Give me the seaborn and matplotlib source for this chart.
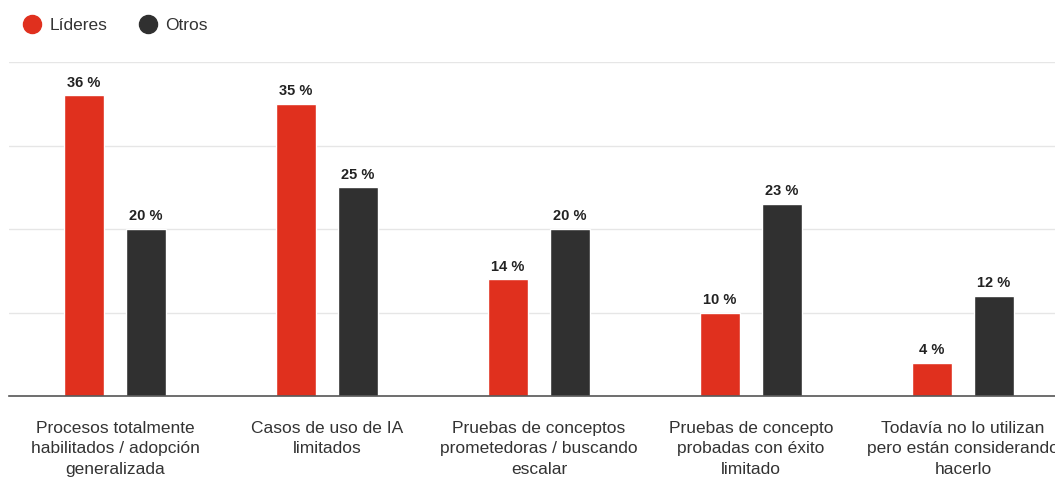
import matplotlib
matplotlib.use('Agg')
import matplotlib.pyplot as plt
from matplotlib.lines import Line2D
import seaborn as sns
import pandas as pd

categories = [
    "Procesos totalmente\nhabilitados / adopción\ngeneralizada",
    "Casos de uso de IA\nlimitados",
    "Pruebas de conceptos\nprometedoras / buscando\nescalar",
    "Pruebas de concepto\nprobadas con éxito\nlimitado",
    "Todavía no lo utilizan\npero están considerando\nhacerlo",
]
series_names = ["Líderes", "Otros"]
lideres = [36, 35, 14, 10, 4]
otros = [20, 25, 20, 23, 12]
colors = {"Líderes": "#E0301E", "Otros": "#303030"}

rows = []
for cat, a, b in zip(categories, lideres, otros):
    rows.append({"cat": cat, "grupo": "Líderes", "valor": a})
    rows.append({"cat": cat, "grupo": "Otros", "valor": b})
df = pd.DataFrame(rows)

sns.set_style("white")
plt.rcParams['font.family'] = ['Liberation Sans', 'DejaVu Sans']

fig = plt.figure(figsize=(10.55, 4.78), dpi=100)
ax = fig.add_axes([9 / 1055, 1 - 396 / 478, 1060 / 1055, (396 - 62) / 478])

sns.barplot(data=df, x="cat", y="valor", hue="grupo", palette=colors,
            width=0.585, gap=0.37, ax=ax, legend=False, saturation=1)

ax.set_ylim(0, 40)
ax.set_xlim(-0.5, len(categories) - 0.5)
ax.set_yticks([10, 20, 30, 40])
ax.yaxis.grid(True, color="#e6e6e6", linewidth=1)
ax.set_axisbelow(True)
for side in ["top", "right", "left"]:
    ax.spines[side].set_visible(False)
ax.spines["bottom"].set_color("#555555")
ax.spines["bottom"].set_linewidth(1.2)
ax.tick_params(axis="y", length=0, labelleft=False)
ax.tick_params(axis="x", length=0, pad=18, labelsize=12.5, labelcolor="#333333")
for lbl in ax.get_xticklabels():
    lbl.set_linespacing(1.45)
ax.set_xlabel("")
ax.set_ylabel("")

for container in ax.containers:
    ax.bar_label(container, labels=[f"{int(v)} %" for v in container.datavalues],
                 padding=4, fontsize=10.5, fontweight="bold", color="#222222")

handles = [Line2D([0], [0], marker="o", linestyle="", markersize=13,
                  markerfacecolor=colors[n], markeredgecolor=colors[n]) for n in series_names]
fig.legend(handles, series_names, loc="center left", bbox_to_anchor=(15 / 1055, 1 - 25 / 478),
           ncol=2, frameon=False, fontsize=12.5, handletextpad=0.0, columnspacing=1.3,
           labelcolor="#333333", borderaxespad=0, borderpad=0)

plt.savefig("out.png", dpi=100)
plt.close()
